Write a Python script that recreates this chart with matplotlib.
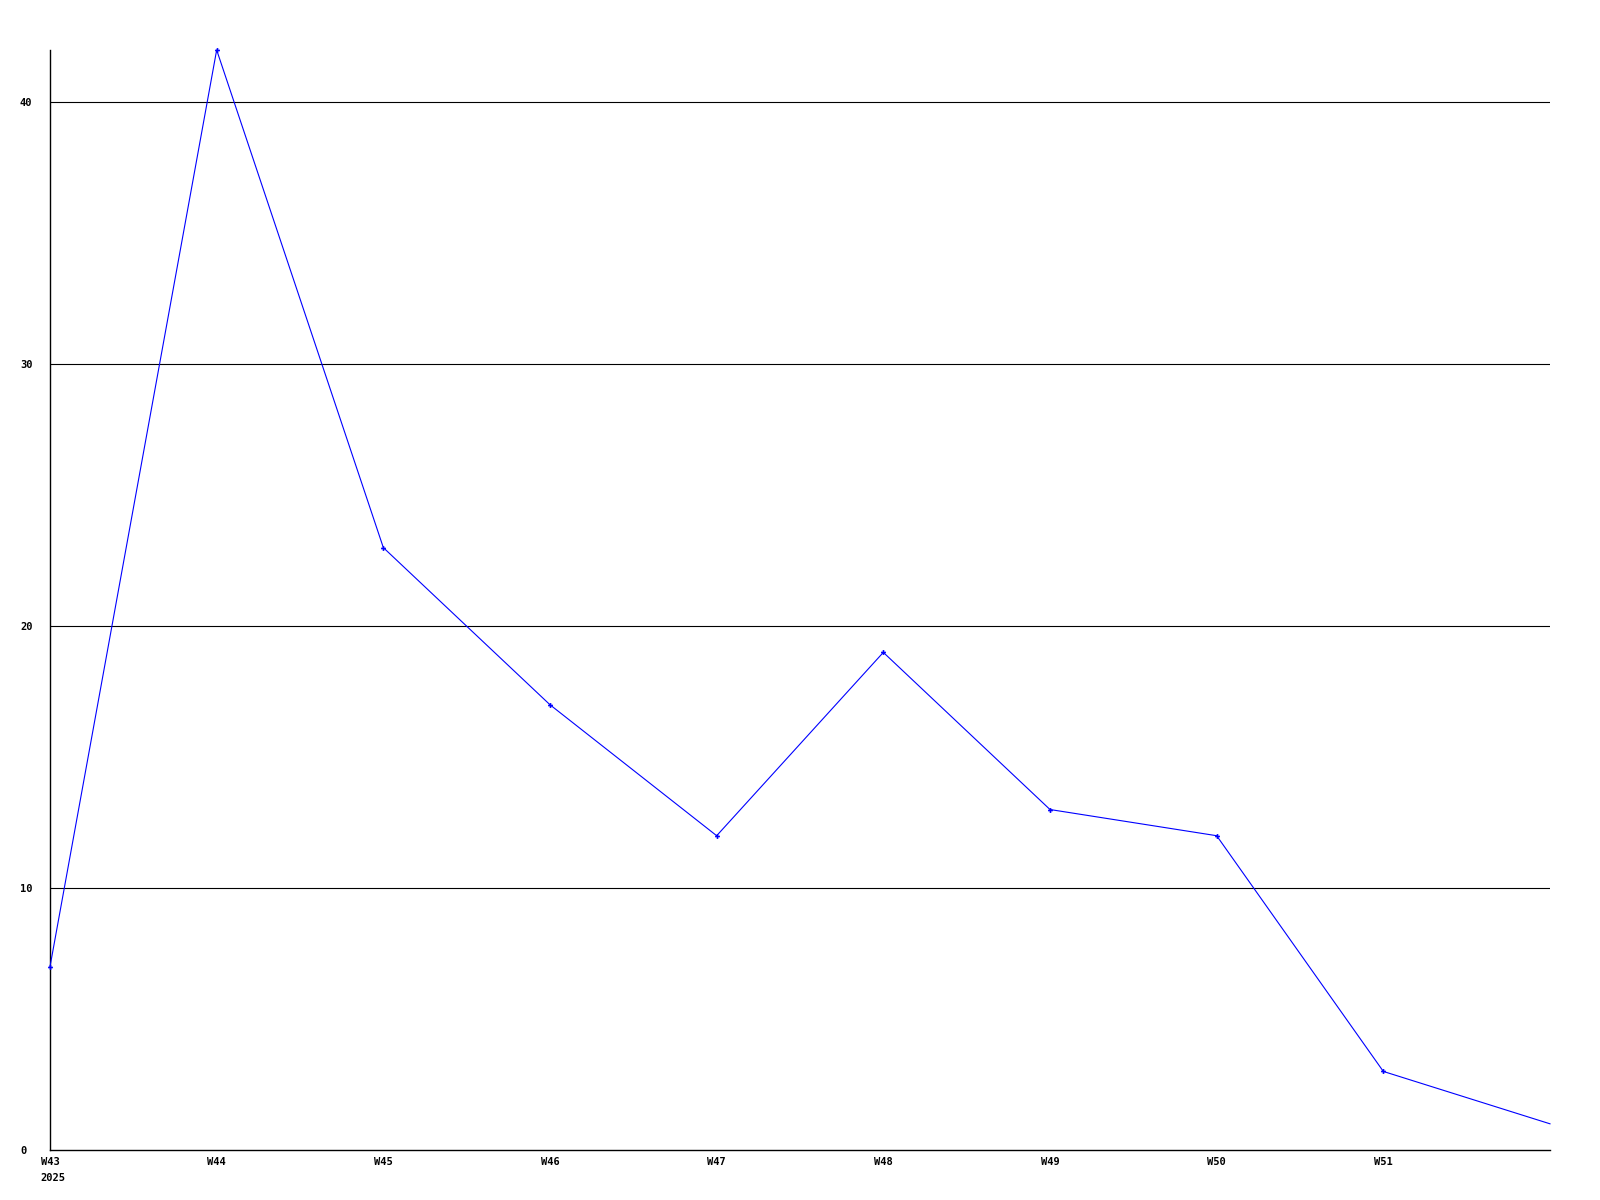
#!/usr/bin/env python3
"""Weekly counts line chart (W43-W52 2025)."""

import matplotlib
matplotlib.use("Agg")
import matplotlib.pyplot as plt

# Data
weeks = ["W43", "W44", "W45", "W46", "W47", "W48", "W49", "W50", "W51", "W52"]
counts = [7, 42, 23, 17, 12, 19, 13, 12, 3, 1]
tick_labels = ["W43", "W44", "W45", "W46", "W47", "W48", "W49", "W50", "W51"]
y_ticks = [0, 10, 20, 30, 40]
year_label = "2025"


def main() -> int:
    plt.rcParams["font.family"] = ["DejaVu Sans Mono"]
    fig = plt.figure(figsize=(16, 12), dpi=100)
    # axes box in pixels: left 50, right 1550, top 50, bottom 1150
    ax = fig.add_axes([50 / 1600, 50 / 1200, 1500 / 1600, 1100 / 1200])

    x = list(range(len(weeks)))
    # last point sits on the right edge without a marker
    ax.plot(x, counts, color="#0000ff", linewidth=0.8, marker="P",
            markersize=3.5, markeredgewidth=0, markevery=list(range(len(weeks) - 1)),
            clip_on=False, zorder=3)

    ax.set_xlim(0, len(weeks) - 1)
    ax.set_ylim(0, max(counts))

    for v in y_ticks[1:]:
        ax.axhline(v, color="black", linewidth=0.8, zorder=1)

    ax.set_xticks(range(len(tick_labels)))
    ax.set_xticklabels(tick_labels, fontsize=7.5, fontweight="bold")
    ax.set_yticks(y_ticks)
    ax.set_yticklabels([str(v) for v in y_ticks], fontsize=7.5, fontweight="bold",
                       ha="left")
    ax.tick_params(axis="y", length=0, pad=21.6)
    ax.tick_params(axis="x", length=0, pad=5)

    ax.text(-10 / 166.7, -0.0205, year_label, transform=ax.get_xaxis_transform(),
            fontsize=7.5, fontweight="bold", ha="left", va="top")

    for side in ("top", "right"):
        ax.spines[side].set_visible(False)
    for side in ("left", "bottom"):
        ax.spines[side].set_linewidth(1.0)

    fig.savefig("out.png", dpi=100)
    plt.close(fig)
    return 0


if __name__ == "__main__":
    raise SystemExit(main())
